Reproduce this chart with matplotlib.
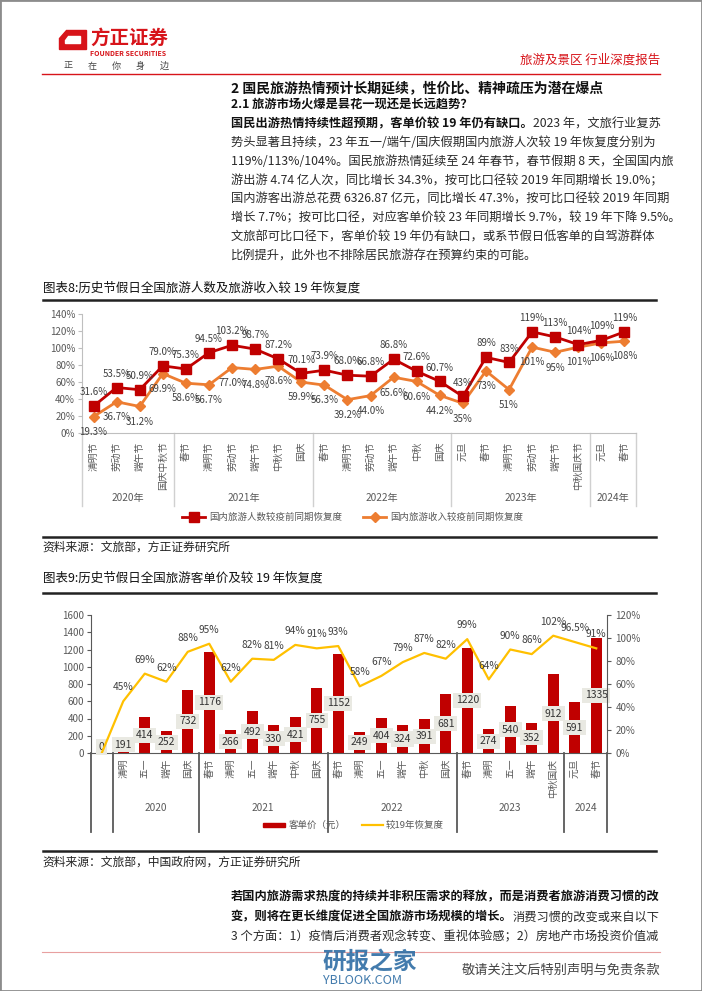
import numpy as np
import matplotlib
matplotlib.use('Agg')
import matplotlib.pyplot as plt
from matplotlib.patches import Rectangle, Polygon
from matplotlib.lines import Line2D

plt.rcParams['font.family'] = ['Noto Sans CJK SC', 'DejaVu Sans']

# ---- data: chart 8 ----
c8_cats = ['清明节', '劳动节', '端午节', '国庆中秋节',
           '春节', '清明节', '劳动节', '端午节', '中秋节', '国庆',
           '春节', '清明节', '劳动节', '端午节', '中秋', '国庆',
           '元旦', '春节', '清明节', '劳动节', '端午节', '中秋国庆节',
           '元旦', '春节']
c8_years = ['2020年', '2021年', '2022年', '2023年', '2024年']
c8_sizes = [4, 6, 6, 6, 2]
c8_people = [31.6, 53.5, 50.9, 79.0, 75.3, 94.5, 103.2, 98.7, 87.2, 70.1,
             73.9, 68.0, 66.8, 86.8, 72.6, 60.7,
             43, 89, 83, 119, 113, 104, 109, 119]
c8_income = [19.3, 36.7, 31.2, 69.9, 58.6, 56.7, 77.0, 74.8, 78.6, 59.9,
             56.3, 39.2, 44.0, 65.6, 60.6, 44.2,
             35, 73, 51, 101, 95, 101, 106, 108]
c8_one_decimal = 16   # first 16 labels are written with one decimal
c8_legend = ['国内旅游人数较疫前同期恢复度', '国内旅游收入较疫前同期恢复度']

# ---- data: chart 9 ----
c9_cats = ['', '清明', '五一', '端午', '国庆',
           '春节', '清明', '五一', '端午', '中秋', '国庆',
           '春节', '清明', '五一', '端午', '中秋', '国庆',
           '春节', '清明', '五一', '端午', '中秋国庆',
           '元旦', '春节']
c9_years = ['', '2020', '2021', '2022', '2023', '2024']
c9_sizes = [1, 4, 6, 6, 5, 2]
c9_price = [0, 191, 414, 252, 732, 1176, 266, 492, 330, 421, 755,
            1152, 249, 404, 324, 391, 681, 1220, 274, 540, 352, 912, 591, 1335]
c9_recovery = [0, 45, 69, 62, 88, 95, 62, 82, 81, 94, 91,
               93, 58, 67, 79, 87, 82, 99, 64, 90, 86, 102, 96.5, 91]
c9_legend = ['客单价（元）', '较19年恢复度']

RED = '#C00000'
ORANGE = '#ED7D31'
GOLD = '#FFC000'
GRAY = '#595959'

W, H = 702, 991
fig = plt.figure(figsize=(W / 100, H / 100), dpi=100)
rend = fig.canvas.get_renderer()


def rect(l, t, r, b):
    return [l / W, 1 - b / H, (r - l) / W, (b - t) / H]


def ftext(x, y, s, **kw):
    kw.setdefault('va', 'center')
    return fig.text(x / W, 1 - y / H, s, **kw)


def hline(x0, x1, y, **kw):
    fig.add_artist(Line2D([x0 / W, x1 / W], [1 - y / H, 1 - y / H], **kw))


def runs(x, y, parts, size=8.8):
    for s, bold in parts:
        t = ftext(x, y, s, fontsize=size, color='#111111' if bold else '#2a2a2a',
                  fontweight='bold' if bold else 'normal')
        x += t.get_window_extent(rend).width


# page frame
fig.add_artist(Rectangle((0, 0), 1, 1, transform=fig.transFigure, fill=False,
                         edgecolor='#8c8c8c', lw=2))

# ---- header ----
logo_out = [(66, 30), (86, 30), (86, 49), (59, 49), (59, 38)]
logo_in = [(68, 36), (80, 36), (80, 43), (65, 43), (65, 40)]
fig.add_artist(Polygon([(x / W, 1 - y / H) for x, y in logo_out], closed=True,
                       transform=fig.transFigure, color='#D7141A'))
fig.add_artist(Polygon([(x / W, 1 - y / H) for x, y in logo_in], closed=True,
                       transform=fig.transFigure, color='white'))
ftext(90, 38, '方正证券', fontsize=14, fontweight='bold', color='#D7141A')
ftext(90, 53, 'FOUNDER SECURITIES', fontsize=5, fontweight='bold', color='#D7141A')
for i, ch in enumerate('正在你身边'):
    ftext(64 + i * 24, 66, ch, fontsize=6.5, color='#444444')
ftext(660, 60, '旅游及景区 行业深度报告', fontsize=9, color='#D7141A', ha='right')
hline(42, 660, 74, color='#D7141A', lw=1)

# ---- top body text ----
ftext(231, 88, '2 国民旅游热情预计长期延续，性价比、精神疏压为潜在爆点',
      fontsize=10, fontweight='bold', color='#111111')
ftext(231, 105, '2.1 旅游市场火爆是昙花一现还是长远趋势？',
      fontsize=8.8, fontweight='bold', color='#111111')
body = [
    [('国民出游热情持续性超预期，客单价较 19 年仍有缺口。', True), ('2023 年，文旅行业复苏', False)],
    [('势头显著且持续，23 年五一/端午/国庆假期国内旅游人次较 19 年恢复度分别为', False)],
    [('119%/113%/104%。国民旅游热情延续至 24 年春节，春节假期 8 天，全国国内旅', False)],
    [('游出游 4.74 亿人次，同比增长 34.3%，按可比口径较 2019 年同期增长 19.0%；', False)],
    [('国内游客出游总花费 6326.87 亿元，同比增长 47.3%，按可比口径较 2019 年同期', False)],
    [('增长 7.7%；按可比口径，对应客单价较 23 年同期增长 9.7%，较 19 年下降 9.5%。', False)],
    [('文旅部可比口径下，客单价较 19 年仍有缺口，或系节假日低客单的自驾游群体', False)],
    [('比例提升，此外也不排除居民旅游存在预算约束的可能。', False)],
]
for k, parts in enumerate(body):
    runs(231, 124 + k * 18.8, parts)

# ---- chart 8 ----
ftext(43, 288, '图表8:历史节假日全国旅游人数及旅游收入较 19 年恢复度',
      fontsize=9, color='#111111')
hline(43, 656, 300, color='#222222', lw=1.8)

ax1 = fig.add_axes(rect(82, 314, 636, 433))
x1 = np.arange(len(c8_cats))
ax1.plot(x1, c8_people, color=RED, lw=2, marker='s', ms=6.5, zorder=3)
ax1.plot(x1, c8_income, color=ORANGE, lw=2, marker='D', ms=5, zorder=2)
ax1.set_xlim(-0.5, len(c8_cats) - 0.5)
ax1.set_ylim(0, 140)
ax1.set_yticks(np.arange(0, 141, 20))
ax1.set_yticklabels([f'{v}%' for v in range(0, 141, 20)], fontsize=7, color=GRAY)
ax1.set_xticks(x1)
ax1.set_xticklabels(c8_cats, rotation=90, fontsize=7, color=GRAY, va='top')
ax1.tick_params(axis='x', length=0, pad=6)
ax1.tick_params(axis='y', length=3, color='#bfbfbf', pad=2)
for s in ['top', 'right']:
    ax1.spines[s].set_visible(False)
for s in ['left', 'bottom']:
    ax1.spines[s].set_color('#bfbfbf')

for i in range(len(c8_cats)):
    fmt = '{:.1f}%' if i < c8_one_decimal else '{:.0f}%'
    ax1.annotate(fmt.format(c8_people[i]), (i, c8_people[i]), xytext=(0, 10),
                 textcoords='offset points', ha='center', va='center',
                 fontsize=7, color='#404040')
    ax1.annotate(fmt.format(c8_income[i]), (i, c8_income[i]), xytext=(0, -11),
                 textcoords='offset points', ha='center', va='center',
                 fontsize=7, color='#404040')

xt1 = ax1.get_xaxis_transform()
edge = -0.5
ax1.plot([edge, edge], [0, -0.61], transform=xt1, color='#d0d0d0', lw=1, clip_on=False)
for name, n in zip(c8_years, c8_sizes):
    ax1.text(edge + n / 2, -0.55, name, transform=xt1, ha='center', va='center',
             fontsize=7.3, color=GRAY)
    edge += n
    ax1.plot([edge, edge], [0, -0.61], transform=xt1, color='#d0d0d0', lw=1, clip_on=False)

# legend chart 8
fig.add_artist(Line2D([182 / W, 205 / W], [1 - 517 / H] * 2, color=RED, lw=2))
fig.add_artist(Line2D([193.5 / W], [1 - 517 / H], color=RED, marker='s', ms=6.5))
ftext(209, 517, c8_legend[0], fontsize=6.8, color=GRAY)
fig.add_artist(Line2D([363 / W, 386 / W], [1 - 517 / H] * 2, color=ORANGE, lw=2))
fig.add_artist(Line2D([374.5 / W], [1 - 517 / H], color=ORANGE, marker='D', ms=5))
ftext(390, 517, c8_legend[1], fontsize=6.8, color=GRAY)

hline(43, 656, 537, color='#222222', lw=1.8)
ftext(42, 547, '资料来源：文旅部，方正证券研究所', fontsize=8.5, color='#222222')

# ---- chart 9 ----
ftext(43, 578, '图表9:历史节假日全国旅游客单价及较 19 年恢复度',
      fontsize=9, color='#111111')
hline(43, 656, 593, color='#222222', lw=1.8)

ax2 = fig.add_axes(rect(91, 615, 607, 753))
x2 = np.arange(len(c9_cats))
ax2.bar(x2, c9_price, width=0.52, color=RED, zorder=2)
ax2.set_xlim(-0.5, len(c9_cats) - 0.5)
ax2.set_ylim(0, 1600)
ax2.set_yticks(np.arange(0, 1601, 200))
ax2.tick_params(axis='y', labelsize=7, labelcolor=GRAY, length=3, color=GRAY, pad=2)
ax2.set_xticks(x2)
ax2.set_xticklabels(c9_cats, rotation=90, fontsize=7, color=GRAY, va='top')
ax2.tick_params(axis='x', length=0, pad=4)
for s in ['top', 'right']:
    ax2.spines[s].set_visible(False)
for s in ['left', 'bottom']:
    ax2.spines[s].set_color(GRAY)
for i, v in enumerate(c9_price):
    # small bars get their label lifted a little, as in the source
    ax2.text(i, max(v / 2, 70), str(v), ha='center', va='center', fontsize=7.5,
             color='#333333', zorder=4,
             bbox=dict(boxstyle='square,pad=0.25', fc='#e9e9e2', ec='none'))

ax2r = ax2.twinx()
ax2r.plot(x2, c9_recovery, color=GOLD, lw=1.6)
ax2r.set_ylim(0, 120)
ax2r.set_yticks(np.arange(0, 121, 20))
ax2r.set_yticklabels([f'{v}%' for v in range(0, 121, 20)])
ax2r.tick_params(axis='y', labelsize=7, labelcolor=GRAY, length=3, color=GRAY, pad=3)
for s in ['top', 'left', 'bottom']:
    ax2r.spines[s].set_visible(False)
ax2r.spines['right'].set_color(GRAY)
for i, v in enumerate(c9_recovery):
    if i == 0:
        continue
    lab = f'{v:g}%'
    ax2r.annotate(lab, (i, v), xytext=(0, 10), textcoords='offset points',
                  ha='center', va='center', fontsize=7.3, color='#404040')

xt2 = ax2.get_xaxis_transform()
edge = -0.5
ax2.plot([edge, edge], [0, -0.57], transform=xt2, color=GRAY, lw=1.3, clip_on=False)
for name, n in zip(c9_years, c9_sizes):
    ax2.text(edge + n / 2, -0.40, name, transform=xt2, ha='center', va='center',
             fontsize=7.3, color=GRAY)
    edge += n
    ax2.plot([edge, edge], [0, -0.57], transform=xt2, color=GRAY, lw=1.3, clip_on=False)

# legend chart 9
fig.add_artist(Rectangle((263 / W, 1 - 827 / H), 22 / W, 4 / H,
                         transform=fig.transFigure, color=RED))
ftext(289, 825, c9_legend[0], fontsize=6.8, color=GRAY)
fig.add_artist(Line2D([362 / W, 383 / W], [1 - 825 / H] * 2, color=GOLD, lw=1.6))
ftext(386, 825, c9_legend[1], fontsize=6.8, color=GRAY)

hline(43, 656, 851, color='#222222', lw=1.8)
ftext(42, 862, '资料来源：文旅部，中国政府网，方正证券研究所', fontsize=8.5, color='#222222')

# ---- bottom body text ----
bottom = [
    [('若国内旅游需求热度的持续并非积压需求的释放，而是消费者旅游消费习惯的改', True)],
    [('变，则将在更长维度促进全国旅游市场规模的增长。', True), ('消费习惯的改变或来自以下', False)],
    [('3 个方面：1）疫情后消费者观念转变、重视体验感；2）房地产市场投资价值减', False)],
]
for k, parts in enumerate(bottom):
    runs(231, 897 + k * 20, parts)

hline(42, 660, 952, color='#E8A0A0', lw=0.8)
ftext(660, 970, '敬请关注文后特别声明与免责条款', fontsize=9.5, color='#444444', ha='right')

# watermark
ftext(322, 962, '研报之家', fontsize=17, fontweight='bold', color='#2E6DA4', alpha=0.9)
ftext(323, 980, 'YBLOOK.COM', fontsize=9, color='#2E6DA4', alpha=0.9)

fig.savefig('out.png', dpi=100)
